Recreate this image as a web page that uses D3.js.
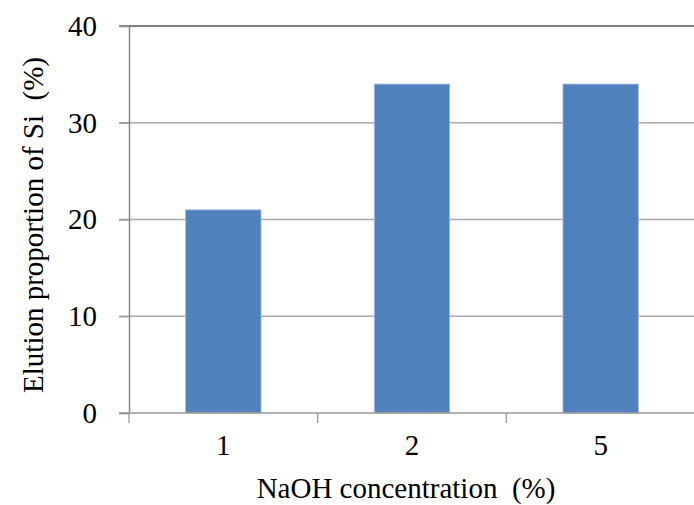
<!DOCTYPE html>
<html>
<head>
<meta charset="utf-8">
<script src="https://cdn.jsdelivr.net/npm/d3@7"></script>
<style>
  body { margin: 0; background: #fff; }
  svg { display: block; }
</style>
</head>
<body>
<svg id="chart" width="694" height="505"></svg>
<script>
// NaOH concentration (%) and the share of Si eluted (%)
const categories = ["1", "2", "5"];
const elution = [21, 34, 34];
const yTicks = [0, 10, 20, 30, 40];

const FONT = '"Liberation Serif"';
const FS = 29;
const svg = d3.select("#chart");
const margin = { left: 129, right: 0, top: 26, bottom: 92 };
const W = 694, H = 505;

const x = d3.scaleBand()
  .domain(categories)
  .range([margin.left, W + 1])
  .paddingInner(0.6)
  .paddingOuter(0.3);

const y = d3.scaleLinear()
  .domain([0, 40])
  .range([H - margin.bottom, margin.top]);

// horizontal gridlines
svg.append("g")
  .selectAll("line")
  .data(yTicks.filter(d => d > 0))
  .join("line")
  .attr("x1", margin.left - 10)
  .attr("x2", W)
  .attr("y1", d => y(d))
  .attr("y2", d => y(d))
  .attr("stroke", d => d === 40 ? "#555" : "#aaa")
  .attr("stroke-width", d => d === 40 ? 1.5 : 1.3);

// bars
svg.append("g")
  .selectAll("rect")
  .data(categories)
  .join("rect")
  .attr("x", d => x(d))
  .attr("width", x.bandwidth())
  .attr("y", (d, i) => y(elution[i]))
  .attr("height", (d, i) => y(0) - y(elution[i]))
  .attr("fill", "#4f81bd")
  .attr("stroke", "#a9c0e0")
  .attr("stroke-width", 0.8);

// y axis
const yAxis = svg.append("g")
  .attr("transform", `translate(${margin.left},0)`)
  .call(d3.axisLeft(y).tickValues(yTicks).tickSize(10).tickPadding(22).tickFormat(d3.format("d")));
yAxis.select(".domain").attr("stroke", "#888").attr("stroke-width", 1.5);
yAxis.selectAll(".tick line").attr("stroke", "#999").attr("stroke-width", 1.3);
yAxis.selectAll(".tick text")
  .attr("fill", "#000")
  .style("font-family", FONT)
  .style("font-size", FS + "px");

// x axis: ticks at category boundaries
const step = x.step();
const boundaries = [0, 1, 2, 3].map(i => margin.left + i * step);
const xg = svg.append("g");
xg.append("line")
  .attr("x1", margin.left - 10)
  .attr("x2", W)
  .attr("y1", y(0))
  .attr("y2", y(0))
  .attr("stroke", "#999")
  .attr("stroke-width", 1.5);
xg.selectAll("line.tk")
  .data(boundaries)
  .join("line")
  .attr("class", "tk")
  .attr("x1", d => d)
  .attr("x2", d => d)
  .attr("y1", y(0))
  .attr("y2", y(0) + 10)
  .attr("stroke", "#999")
  .attr("stroke-width", 1.3);
xg.selectAll("text")
  .data(categories)
  .join("text")
  .attr("x", d => x(d) + x.bandwidth() / 2)
  .attr("y", y(0) + 42)
  .attr("text-anchor", "middle")
  .style("font-family", FONT)
  .style("font-size", FS + "px")
  .text(d => d);

// axis titles
svg.append("text")
  .attr("x", 406)
  .attr("y", 498)
  .attr("text-anchor", "middle")
  .style("font-family", FONT)
  .style("font-size", FS + "px")
  .text("NaOH concentration\u00a0\u00a0(%)");

svg.append("text")
  .attr("transform", "translate(43,225) rotate(-90)")
  .attr("text-anchor", "middle")
  .style("font-family", FONT)
  .style("font-size", FS + "px")
  .text("Elution proportion of Si\u00a0\u00a0(%)");
</script>
</body>
</html>
